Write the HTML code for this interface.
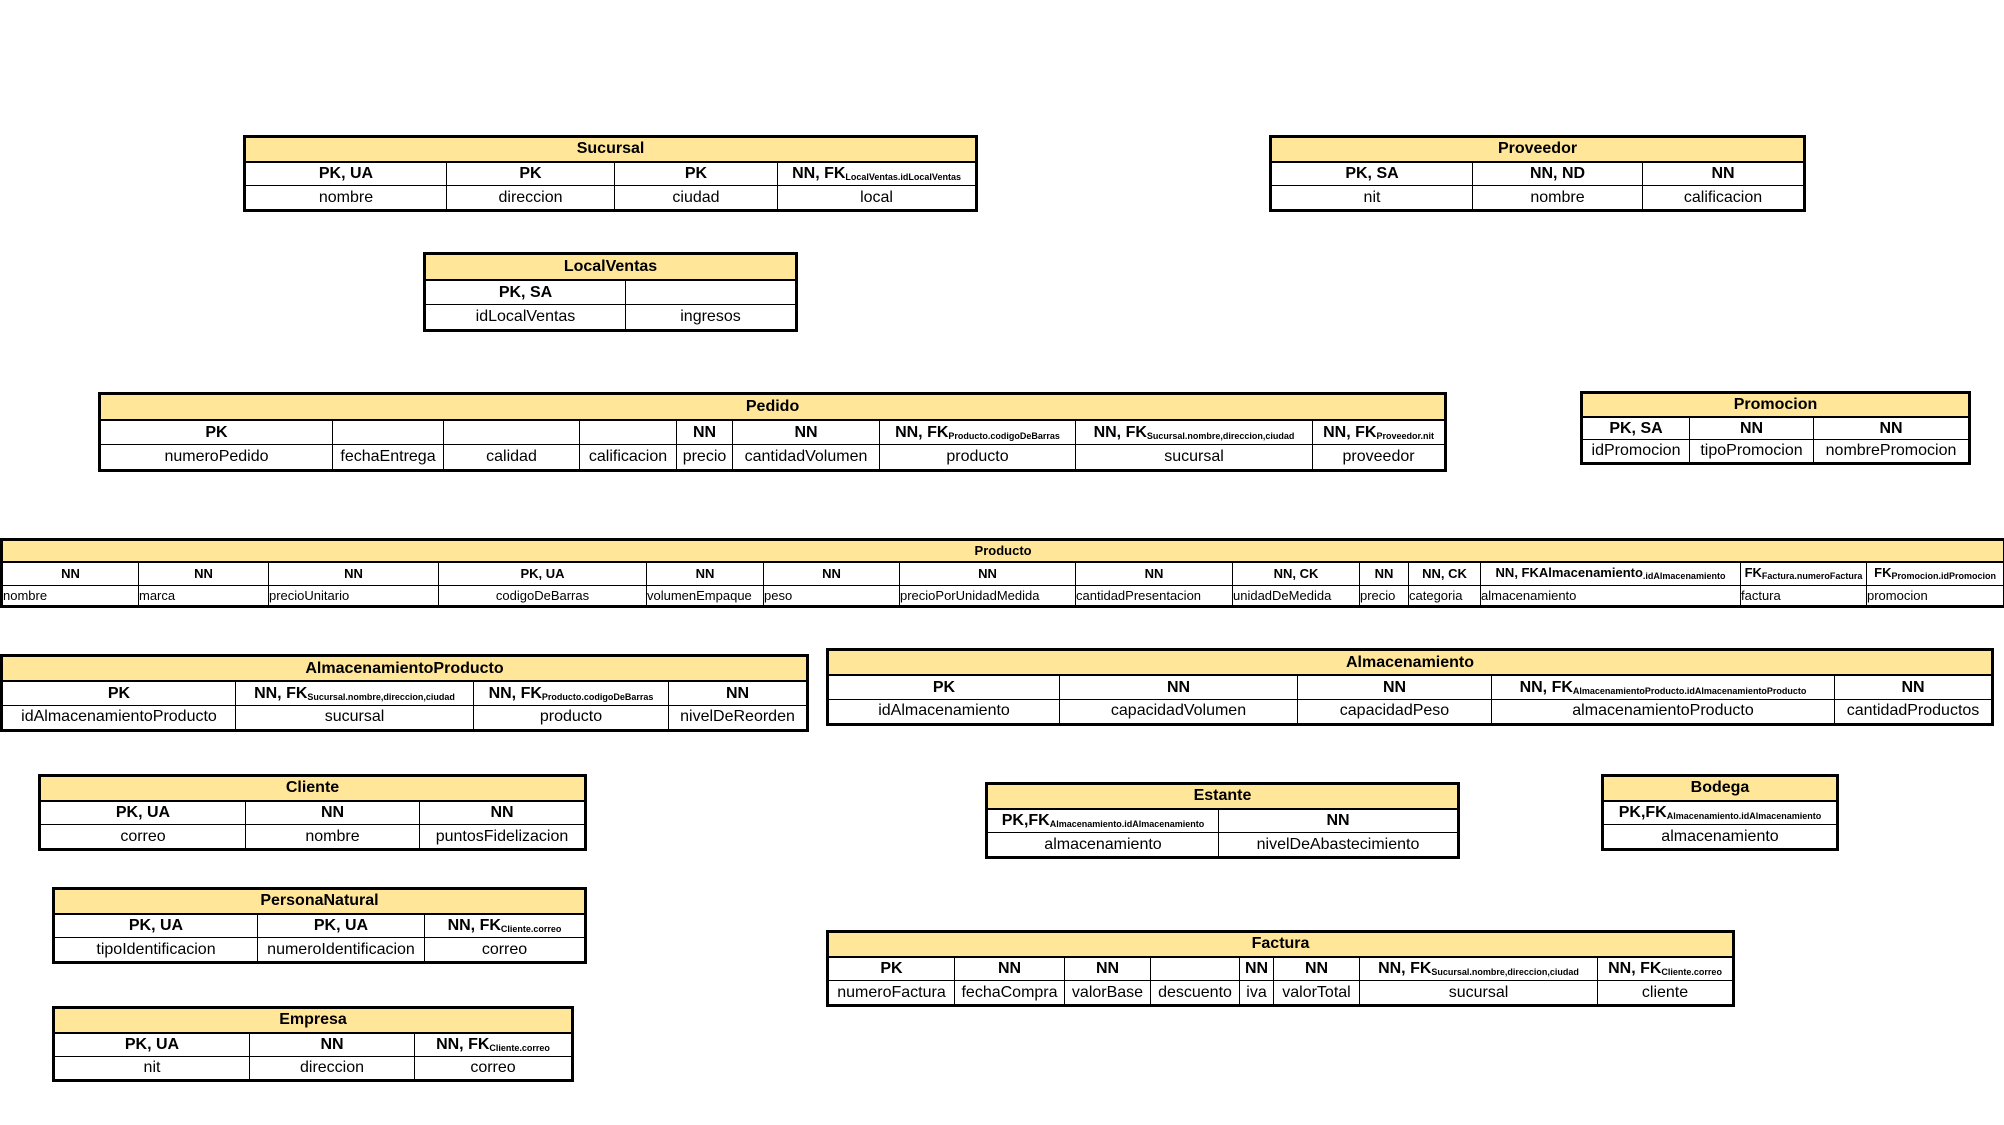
<!DOCTYPE html>
<html><head><meta charset="utf-8"><style>
body{margin:0;width:2004px;height:1125px;background:#fff;position:relative;overflow:hidden}
table{position:absolute;border:3px solid #000;border-collapse:collapse;table-layout:fixed;font-family:"Liberation Sans Narrow","Liberation Sans",sans-serif;font-size:16px;text-align:center;color:#000}
td{border:1px solid #000;padding:0;white-space:nowrap;overflow:hidden;line-height:1}
tr.ti td{background:#FFE699;font-weight:bold;border-bottom:2px solid #000}
tr.h td{font-weight:bold}
sub{font-size:9px;vertical-align:-2px}
.p{font-size:13px}
.p tr.d td{text-align:left}
</style></head><body>

<table style="left:243px;top:135px;width:732px;height:77px">
<colgroup><col style="width:202px"><col style="width:168px"><col style="width:163px"><col style="width:199px"></colgroup>
<tr class="ti"><td colspan="4">Sucursal</td></tr>
<tr class="h"><td>PK, UA</td><td>PK</td><td>PK</td><td>NN, FK<sub>LocalVentas.idLocalVentas</sub></td></tr>
<tr class="d"><td>nombre</td><td>direccion</td><td>ciudad</td><td>local</td></tr>
</table>

<table style="left:1269px;top:135px;width:534px;height:77px">
<colgroup><col style="width:202px"><col style="width:170px"><col style="width:162px"></colgroup>
<tr class="ti"><td colspan="3">Proveedor</td></tr>
<tr class="h"><td>PK, SA</td><td>NN, ND</td><td>NN</td></tr>
<tr class="d"><td>nit</td><td>nombre</td><td>calificacion</td></tr>
</table>

<table style="left:423px;top:252px;width:372px;height:80px">
<colgroup><col style="width:201px"><col style="width:171px"></colgroup>
<tr class="ti"><td colspan="2">LocalVentas</td></tr>
<tr class="h"><td>PK, SA</td><td></td></tr>
<tr class="d"><td>idLocalVentas</td><td>ingresos</td></tr>
</table>

<table style="left:98px;top:392px;width:1346px;height:80px">
<colgroup><col style="width:233px"><col style="width:111px"><col style="width:136px"><col style="width:97px"><col style="width:56px"><col style="width:147px"><col style="width:196px"><col style="width:237px"><col style="width:133px"></colgroup>
<tr class="ti"><td colspan="9">Pedido</td></tr>
<tr class="h"><td>PK</td><td></td><td></td><td></td><td>NN</td><td>NN</td><td>NN, FK<sub>Producto.codigoDeBarras</sub></td><td>NN, FK<sub>Sucursal.nombre,direccion,ciudad</sub></td><td>NN, FK<sub>Proveedor.nit</sub></td></tr>
<tr class="d"><td>numeroPedido</td><td>fechaEntrega</td><td>calidad</td><td>calificacion</td><td>precio</td><td>cantidadVolumen</td><td>producto</td><td>sucursal</td><td>proveedor</td></tr>
</table>

<table style="left:1580px;top:391px;width:388px;height:74px">
<colgroup><col style="width:108px"><col style="width:124px"><col style="width:156px"></colgroup>
<tr class="ti"><td colspan="3">Promocion</td></tr>
<tr class="h"><td>PK, SA</td><td>NN</td><td>NN</td></tr>
<tr class="d"><td>idPromocion</td><td>tipoPromocion</td><td>nombrePromocion</td></tr>
</table>

<table class="p" style="left:0px;top:538px;width:2003px;height:70px">
<colgroup><col style="width:137px"><col style="width:130px"><col style="width:170px"><col style="width:208px"><col style="width:117px"><col style="width:136px"><col style="width:176px"><col style="width:157px"><col style="width:127px"><col style="width:49px"><col style="width:72px"><col style="width:260px"><col style="width:126px"><col style="width:138px"></colgroup>
<tr class="ti"><td colspan="14">Producto</td></tr>
<tr class="h"><td>NN</td><td>NN</td><td>NN</td><td>PK, UA</td><td>NN</td><td>NN</td><td>NN</td><td>NN</td><td>NN, CK</td><td>NN</td><td>NN, CK</td><td>NN, FKAlmacenamiento<sub>.idAlmacenamiento</sub></td><td>FK<sub>Factura.numeroFactura</sub></td><td>FK<sub>Promocion.idPromocion</sub></td></tr>
<tr class="d"><td>nombre</td><td>marca</td><td>precioUnitario</td><td style="text-align:center">codigoDeBarras</td><td>volumenEmpaque</td><td>peso</td><td>precioPorUnidadMedida</td><td>cantidadPresentacion</td><td>unidadDeMedida</td><td>precio</td><td>categoria</td><td>almacenamiento</td><td>factura</td><td>promocion</td></tr>
</table>

<table style="left:0px;top:654px;width:806px;height:78px">
<colgroup><col style="width:234px"><col style="width:238px"><col style="width:195px"><col style="width:139px"></colgroup>
<tr class="ti"><td colspan="4">AlmacenamientoProducto</td></tr>
<tr class="h"><td>PK</td><td>NN, FK<sub>Sucursal.nombre,direccion,ciudad</sub></td><td>NN, FK<sub>Producto.codigoDeBarras</sub></td><td>NN</td></tr>
<tr class="d"><td>idAlmacenamientoProducto</td><td>sucursal</td><td>producto</td><td>nivelDeReorden</td></tr>
</table>

<table style="left:826px;top:648px;width:1165px;height:78px">
<colgroup><col style="width:232px"><col style="width:238px"><col style="width:194px"><col style="width:343px"><col style="width:158px"></colgroup>
<tr class="ti"><td colspan="5">Almacenamiento</td></tr>
<tr class="h"><td>PK</td><td>NN</td><td>NN</td><td>NN, FK<sub>AlmacenamientoProducto.idAlmacenamientoProducto</sub></td><td>NN</td></tr>
<tr class="d"><td>idAlmacenamiento</td><td>capacidadVolumen</td><td>capacidadPeso</td><td>almacenamientoProducto</td><td>cantidadProductos</td></tr>
</table>

<table style="left:38px;top:774px;width:546px;height:77px">
<colgroup><col style="width:206px"><col style="width:174px"><col style="width:166px"></colgroup>
<tr class="ti"><td colspan="3">Cliente</td></tr>
<tr class="h"><td>PK, UA</td><td>NN</td><td>NN</td></tr>
<tr class="d"><td>correo</td><td>nombre</td><td>puntosFidelizacion</td></tr>
</table>

<table style="left:985px;top:782px;width:472px;height:77px">
<colgroup><col style="width:232px"><col style="width:240px"></colgroup>
<tr class="ti"><td colspan="2">Estante</td></tr>
<tr class="h"><td>PK,FK<sub>Almacenamiento.idAlmacenamiento</sub></td><td>NN</td></tr>
<tr class="d"><td>almacenamiento</td><td>nivelDeAbastecimiento</td></tr>
</table>

<table style="left:1601px;top:774px;width:235px;height:77px">
<colgroup><col style="width:235px"></colgroup>
<tr class="ti"><td>Bodega</td></tr>
<tr class="h"><td>PK,FK<sub>Almacenamiento.idAlmacenamiento</sub></td></tr>
<tr class="d"><td>almacenamiento</td></tr>
</table>

<table style="left:52px;top:887px;width:532px;height:77px">
<colgroup><col style="width:204px"><col style="width:167px"><col style="width:161px"></colgroup>
<tr class="ti"><td colspan="3">PersonaNatural</td></tr>
<tr class="h"><td>PK, UA</td><td>PK, UA</td><td>NN, FK<sub>Cliente.correo</sub></td></tr>
<tr class="d"><td>tipoIdentificacion</td><td>numeroIdentificacion</td><td>correo</td></tr>
</table>

<table style="left:826px;top:930px;width:906px;height:77px">
<colgroup><col style="width:127px"><col style="width:110px"><col style="width:86px"><col style="width:89px"><col style="width:34px"><col style="width:86px"><col style="width:238px"><col style="width:136px"></colgroup>
<tr class="ti"><td colspan="8">Factura</td></tr>
<tr class="h"><td>PK</td><td>NN</td><td>NN</td><td></td><td>NN</td><td>NN</td><td>NN, FK<sub>Sucursal.nombre,direccion,ciudad</sub></td><td>NN, FK<sub>Cliente.correo</sub></td></tr>
<tr class="d"><td>numeroFactura</td><td>fechaCompra</td><td>valorBase</td><td>descuento</td><td>iva</td><td>valorTotal</td><td>sucursal</td><td>cliente</td></tr>
</table>

<table style="left:52px;top:1006px;width:519px;height:76px">
<colgroup><col style="width:196px"><col style="width:165px"><col style="width:158px"></colgroup>
<tr class="ti"><td colspan="3">Empresa</td></tr>
<tr class="h"><td>PK, UA</td><td>NN</td><td>NN, FK<sub>Cliente.correo</sub></td></tr>
<tr class="d"><td>nit</td><td>direccion</td><td>correo</td></tr>
</table>

</body></html>
